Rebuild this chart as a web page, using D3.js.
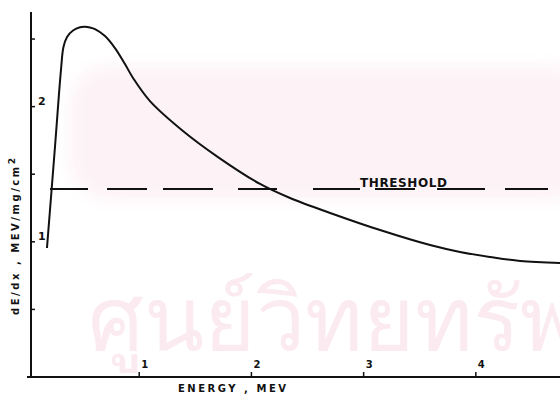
<!DOCTYPE html>
<html>
<head>
<meta charset="utf-8">
<script src="https://cdn.jsdelivr.net/npm/d3@7"></script>
<style>
  body { margin: 0; background: #fff; }
  svg { display: block; }
  text { font-family: "DejaVu Sans", sans-serif; font-weight: bold; fill: #111; }
</style>
</head>
<body>
<svg></svg>
<script>
// stopping power curve
const energy = [0.178, 0.250, 0.303, 0.325, 0.357, 0.410, 0.472, 0.517, 0.561, 0.606, 0.695,
                0.784, 0.873, 0.945, 1.096, 1.390, 1.702, 2.077, 2.344, 2.727, 3.146, 3.592,
                3.859, 4.127, 4.394, 4.750];
const dEdx = [0.954, 1.709, 2.274, 2.441, 2.515, 2.563, 2.587, 2.590, 2.585, 2.574, 2.522,
              2.433, 2.315, 2.212, 2.041, 1.820, 1.627, 1.428, 1.324, 1.206, 1.087, 0.976,
              0.925, 0.888, 0.858, 0.843];

const threshold = 1.39;
const thresholdFrom = 0.205;
const thresholdTo = 4.643;

const xTicks = [1, 2, 3, 4];
const yTicks = [0.5, 1, 1.5, 2, 2.5];
const yTickLabels = [1, 2];

const width = 560, height = 398;

const svg = d3.select("svg")
    .attr("width", width)
    .attr("height", height);

let x = d3.scaleLinear().domain([0, 4.75]).range([27, 560]);
let y = d3.scaleLinear().domain([0, 2.7]).range([377, 12]);

// faint watermark of the scanned page
svg.append("defs").append("filter")
    .attr("id", "soft")
    .append("feGaussianBlur").attr("stdDeviation", 8);
svg.append("rect")
    .attr("x", 70).attr("y", 66)
    .attr("width", 520).attr("height", 134)
    .attr("rx", 40)
    .attr("fill", "#fdf3f6")
    .attr("filter", "url(#soft)");
svg.append("text")
    .attr("x", 88)
    .attr("y", 350)
    .style("font-size", "88px")
    .style("font-weight", "normal")
    .style("fill", "#fbebf1")
    .text("ศูนย์วิทยทรัพยากร");

// axes drawn by hand, like the original
let axisX = 31;
svg.append("line")
    .attr("x1", axisX).attr("x2", axisX)
    .attr("y1", y(2.7)).attr("y2", y(0))
    .attr("stroke", "#111").attr("stroke-width", 2);
svg.append("line")
    .attr("x1", x(0)).attr("x2", x(4.75))
    .attr("y1", y(0)).attr("y2", y(0))
    .attr("stroke", "#111").attr("stroke-width", 2);

svg.selectAll(".ytick")
    .data(yTicks)
    .enter().append("line")
    .attr("x1", axisX).attr("x2", axisX + 4)
    .attr("y1", d => y(d)).attr("y2", d => y(d))
    .attr("stroke", "#111").attr("stroke-width", 1.5);

svg.selectAll(".ylab")
    .data(yTickLabels)
    .enter().append("text")
    .attr("x", axisX + 7)
    .attr("y", d => y(d) - 2)
    .style("font-size", "11px")
    .text(d => d);

svg.selectAll(".xtick")
    .data(xTicks)
    .enter().append("line")
    .attr("x1", d => x(d)).attr("x2", d => x(d))
    .attr("y1", y(0)).attr("y2", y(0) - 5)
    .attr("stroke", "#111").attr("stroke-width", 1.5);

svg.selectAll(".xlab")
    .data(xTicks)
    .enter().append("text")
    .attr("x", d => x(d) + 2)
    .attr("y", y(0) - 9)
    .style("font-size", "10px")
    .text(d => d);

// axis titles
svg.append("text")
    .attr("x", 178)
    .attr("y", 392)
    .attr("textLength", 108)
    .attr("lengthAdjust", "spacing")
    .style("font-size", "10px")
    .text("ENERGY , MEV");

let ytitle = svg.append("text")
    .attr("transform", "translate(19,315) rotate(-90)")
    .attr("textLength", 157)
    .attr("lengthAdjust", "spacing")
    .style("font-size", "10px");
ytitle.append("tspan").text("dE/dx , MEV/mg/cm");
ytitle.append("tspan").attr("dy", -4).style("font-size", "9px").text("2");

// threshold, hand-drawn dashes
svg.append("line")
    .attr("x1", x(thresholdFrom)).attr("x2", x(thresholdTo))
    .attr("y1", y(threshold)).attr("y2", y(threshold))
    .attr("stroke", "#111").attr("stroke-width", 2)
    .attr("stroke-dasharray", "38,19,40,16,50,25,39,36,47,15,40,22,48,20,43");

svg.append("text")
    .attr("x", 360)
    .attr("y", y(threshold) - 2)
    .attr("textLength", 87)
    .attr("lengthAdjust", "spacing")
    .style("font-size", "12px")
    .text("THRESHOLD");

// the curve
let line = d3.line()
    .x(d => x(d[0]))
    .y(d => y(d[1]))
    .curve(d3.curveCatmullRom.alpha(0.5));

svg.append("path")
    .datum(d3.zip(energy, dEdx))
    .attr("d", line)
    .attr("fill", "none")
    .attr("stroke", "#111")
    .attr("stroke-width", 2);
</script>
</body>
</html>
